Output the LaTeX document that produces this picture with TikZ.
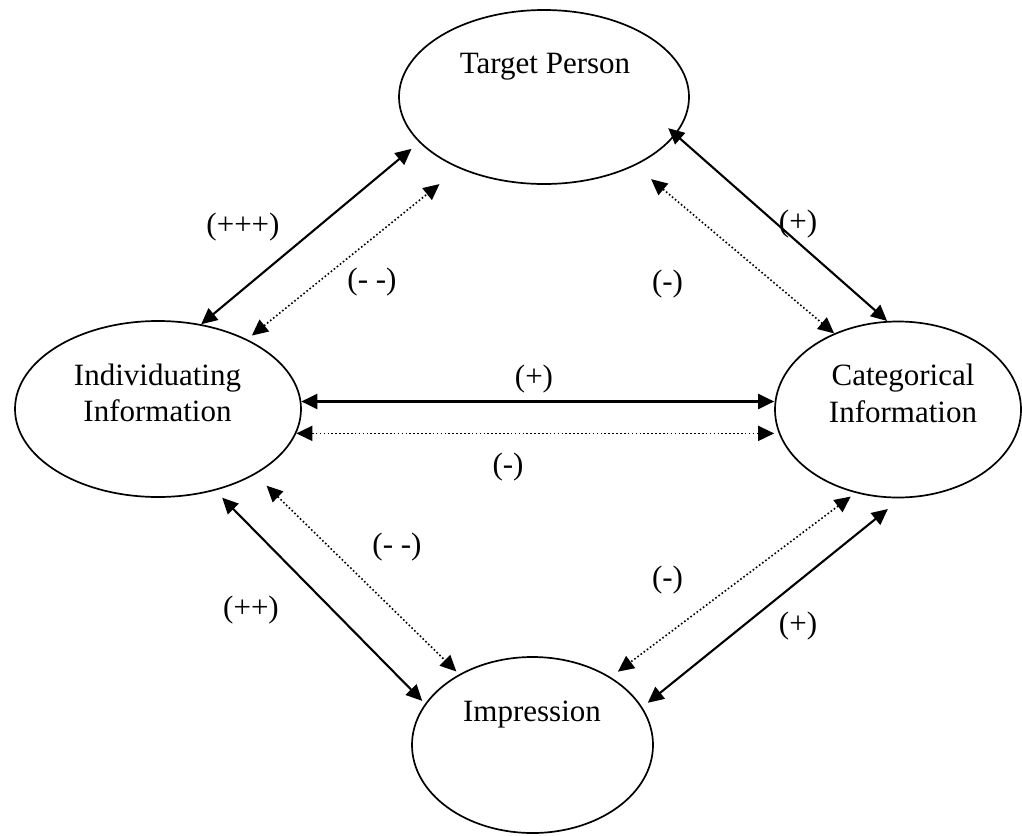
\documentclass[tikz,border=0pt]{standalone}
\usepackage{fontspec}
\setmainfont{Liberation Serif}
\usetikzlibrary{shapes.geometric,arrows.meta}
\begin{document}
\begin{tikzpicture}[x=1pt,y=-1pt,
  ell/.style={ellipse,draw,line width=1.7pt,inner sep=0pt},
  txt/.style={font=\fontsize{31}{36.5}\selectfont,anchor=base,inner sep=0pt},
  lbl/.style={font=\fontsize{31}{36.5}\selectfont,anchor=base,inner sep=0pt},
  solidlink/.style={line width=2.1pt,{Triangle[length=16pt,width=15pt]}-{Triangle[length=16pt,width=15pt]}},
  dotlink/.style={line width=1.6pt,dash pattern=on 1.6pt off 2.3pt,{Triangle[length=16pt,width=15pt]}-{Triangle[length=16pt,width=15pt]}}]
\useasboundingbox (0,0) rectangle (1022,835);

% ellipses
\node[ell,minimum width=290pt,minimum height=174pt] (tp) at (544,97) {};
\node[ell,minimum width=286pt,minimum height=176pt] (ind) at (158,409) {};
\node[ell,minimum width=246pt,minimum height=176pt] (cat) at (898,409.5) {};
\node[ell,minimum width=241pt,minimum height=176pt] (imp) at (532.5,745) {};

% texts
\node[txt] (tptxt) at (545,73) {Target Person};
\node[txt] (indtxt) at (157.5,421.5) {\begin{tabular}[b]{@{}c@{}}Individuating\\Information\end{tabular}};
\node[txt] (cattxt) at (903,422) {\begin{tabular}[b]{@{}c@{}}Categorical\\Information\end{tabular}};
\node[txt] (imptxt) at (532,721) {Impression};

% connectors
\draw[solidlink,shorten >=10pt] (ind.63) -- (tp.200);
\draw[dotlink,shorten <=6pt,shorten >=25pt] (ind.38) -- (tp.220);
\draw[solidlink,shorten <=-10pt] (tp.-16) -- (cat.97);
\draw[dotlink,shorten <=21pt] (tp.-37) -- (cat.130);
\draw[solidlink] (ind.3) -- (ind.3 -| cat.west);
\draw[dotlink] (ind.-10) -- (ind.-10 -| cat.west);
\draw[solidlink,shorten <=10pt,shorten >=4pt] (ind.-55) -- (imp.159);
\draw[dotlink,shorten <=16pt,shorten >=4pt] (ind.-34) -- (imp.136);
\draw[dotlink,shorten <=6pt,shorten >=9pt] (cat.-117) -- (imp.41);
\draw[solidlink,shorten <=17pt,shorten >=7pt] (cat.-88) -- (imp.19);

% labels
\node[lbl] (l1) at (243,234) {(+++)};
\node[lbl] (l2) at (372,289) {(- -)};
\node[lbl] (l3) at (798,231) {(+)};
\node[lbl] (l4) at (667.5,291) {(-)};
\node[lbl] (l5) at (534,386) {(+)};
\node[lbl] (l6) at (508,474) {(-)};
\node[lbl] (l7) at (397,554) {(- -)};
\node[lbl] (l8) at (251,617) {(++)};
\node[lbl] (l9) at (667.5,587) {(-)};
\node[lbl] (l10) at (798,633) {(+)};
\end{tikzpicture}
\end{document}
